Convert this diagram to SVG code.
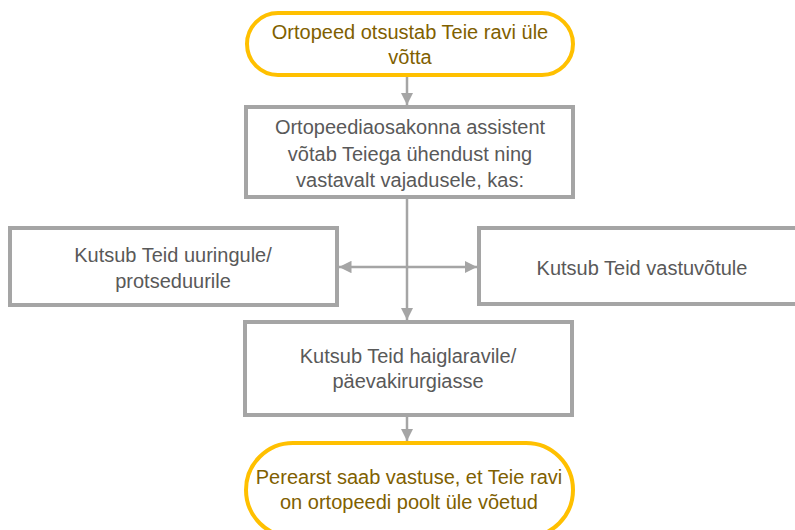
<svg xmlns="http://www.w3.org/2000/svg" width="795" height="530" viewBox="0 0 795 530">
<style>
.term{fill:#fff;stroke:#FFC000;stroke-width:4}
.proc{fill:#fff;stroke:#A5A5A5;stroke-width:4}
.tg{font-family:"Liberation Sans",Arial,sans-serif;font-size:20px;fill:#7F6000;text-anchor:middle}
.tp{font-family:"Liberation Sans",Arial,sans-serif;font-size:20px;fill:#595959;text-anchor:middle}
.con{stroke:#A5A5A5;stroke-width:2.5;fill:none}
</style>
<defs>
<marker id="ah" viewBox="0 0 10 10" refX="10" refY="5" markerWidth="5" markerHeight="5" orient="auto-start-reverse" markerUnits="strokeWidth">
<path d="M0,0 L10,5 L0,10 z" fill="#A5A5A5"/>
</marker>
</defs>
<g id="connectors">
<line class="con" x1="407" y1="76" x2="407" y2="105" marker-end="url(#ah)"/>
<line class="con" x1="407" y1="198" x2="407" y2="320" marker-end="url(#ah)"/>
<line class="con" x1="339" y1="267" x2="477" y2="267" marker-start="url(#ah)" marker-end="url(#ah)"/>
<line class="con" x1="407" y1="416" x2="407" y2="441" marker-end="url(#ah)"/>
</g>
<g id="n1">
<rect class="term" x="247" y="13" width="326" height="62" rx="31"/>
<text class="tg" x="410" y="39">Ortopeed otsustab Teie ravi üle</text>
<text class="tg" x="410" y="64">võtta</text>
</g>
<g id="n2">
<rect class="proc" x="246" y="107" width="327" height="90"/>
<text class="tp" x="410" y="134">Ortopeediaosakonna assistent</text>
<text class="tp" x="410" y="161">võtab Teiega ühendust ning</text>
<text class="tp" x="410" y="187">vastavalt vajadusele, kas:</text>
</g>
<g id="n3">
<rect class="proc" x="10" y="228" width="327" height="77"/>
<text class="tp" x="173" y="262">Kutsub Teid uuringule/</text>
<text class="tp" x="173" y="288">protseduurile</text>
</g>
<g id="n4">
<rect class="proc" x="479" y="228" width="326" height="76"/>
<text class="tp" x="642" y="275">Kutsub Teid vastuvõtule</text>
</g>
<g id="n5">
<rect class="proc" x="245" y="322" width="327" height="93"/>
<text class="tp" x="408" y="363">Kutsub Teid haiglaravile/</text>
<text class="tp" x="408" y="388">päevakirurgiasse</text>
</g>
<g id="n6">
<rect class="term" x="246" y="443" width="327" height="94" rx="47"/>
<text class="tg" x="409" y="484">Perearst saab vastuse, et Teie ravi</text>
<text class="tg" x="409" y="509">on ortopeedi poolt üle võetud</text>
</g>
</svg>
